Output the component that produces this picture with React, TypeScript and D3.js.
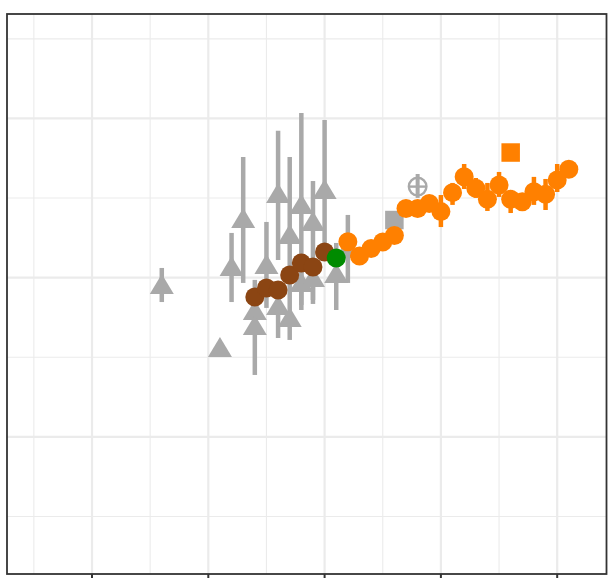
import React from "react";
import * as d3 from "d3";

// ---------- data ----------
const grayYears = [1952, 1962, 1964, 1966, 1968, 1968, 1970, 1972, 1972, 1974, 1974, 1976, 1976, 1978, 1978, 1980, 1982, 1984];
const grayVals = [-0.04, -0.435, 0.073, 0.375, -0.203, -0.297, 0.086, 0.532, -0.171, 0.274, -0.247, 0.463, -0.027, 0.356, 0.004, 0.557, 0.03, 0.187];
const grayLo = [-0.153, -0.435, -0.153, -0.033, -0.316, -0.611, -0.19, 0.111, -0.379, -0.14, -0.391, -0.203, -0.171, -0.165, -0.14, 0.124, -0.203, -0.033];
const grayHi = [0.061, -0.435, 0.281, 0.758, -0.09, -0.014, 0.35, 0.922, -0.046, 0.758, -0.14, 1.035, 0.099, 0.607, 0.099, 0.991, 0.218, 0.394];

const brownYears = [1968, 1970, 1972, 1974, 1976, 1978, 1980];
const brownVals = [-0.121, -0.065, -0.077, 0.017, 0.092, 0.067, 0.161];

const greenYears = [1982];
const greenVals = [0.124];

const orangeYears = [1984, 1986, 1988, 1990, 1992, 1994, 1996, 1998, 2000, 2002, 2004, 2006, 2008, 2010, 2012, 2014, 2016, 2018, 2020, 2022];
const orangeVals = [0.226, 0.136, 0.183, 0.224, 0.265, 0.435, 0.435, 0.466, 0.415, 0.534, 0.634, 0.562, 0.492, 0.582, 0.492, 0.477, 0.54, 0.524, 0.614, 0.681];
const orangeLo = [0.2, 0.11, 0.16, 0.2, 0.24, 0.41, 0.41, 0.42, 0.318, 0.457, 0.557, 0.501, 0.419, 0.507, 0.406, 0.438, 0.457, 0.425, 0.538, 0.639];
const orangeHi = [0.25, 0.16, 0.21, 0.25, 0.29, 0.46, 0.46, 0.51, 0.519, 0.595, 0.714, 0.626, 0.595, 0.664, 0.551, 0.519, 0.633, 0.62, 0.714, 0.72];

const graySquareYears = [1992];
const graySquareVals = [0.362];
const orangeSquareYears = [2012];
const orangeSquareVals = [0.786];
const crossYears = [1996];
const crossVals = [0.572];
const crossLo = [0.501];
const crossHi = [0.651];

const xMajor = [1940, 1960, 1980, 2000, 2020];
const xMinor = [1930, 1950, 1970, 1990, 2010];
const yMajor = [-1, 0, 1];
const yMinor = [-1.5, -0.5, 0.5, 1.5];

// ---------- layout ----------
const W = 608;
const H = 578;
const L = 7, T = 14, R = 606.5, B = 574;

const GRAY = "#A9A9A9";
const ORANGE = "#FF8000";
const BROWN = "#8B4513";
const GREEN = "#008B00";

export default function App() {
  const x = d3.scaleLinear().domain([1925.38, 2028.48]).range([L, R]);
  const y = d3.scaleLinear().domain([-1.861, 1.656]).range([B, T]);

  const r = 9.5;
  const tw = 24, th = 20;
  const tri = (cx: number, cy: number) =>
    `M${cx},${cy - th / 2}L${cx + tw / 2},${cy + th / 2}L${cx - tw / 2},${cy + th / 2}Z`;
  const sq = 18.5;

  return (
    <div style={{ position: "absolute", left: 0, top: 0 }}>
      <svg width={W} height={H} style={{ display: "block" }}>
        <rect x={0} y={0} width={W} height={H} fill="#fff" />
        {/* grid */}
        <g>
          {yMinor.map((v) => (
            <line key={"ym" + v} x1={L} x2={R} y1={y(v)} y2={y(v)} stroke="#EBEBEB" strokeWidth={1.1} />
          ))}
          {xMinor.map((v) => (
            <line key={"xm" + v} x1={x(v)} x2={x(v)} y1={T} y2={B} stroke="#EBEBEB" strokeWidth={1.1} />
          ))}
          {yMajor.map((v) => (
            <line key={"yM" + v} x1={L} x2={R} y1={y(v)} y2={y(v)} stroke="#EBEBEB" strokeWidth={2.2} />
          ))}
          {xMajor.map((v) => (
            <line key={"xM" + v} x1={x(v)} x2={x(v)} y1={T} y2={B} stroke="#EBEBEB" strokeWidth={2.2} />
          ))}
        </g>

        {/* gray error bars */}
        {grayYears.map((yr, i) => (
          <line key={"gb" + i} x1={x(yr)} x2={x(yr)} y1={y(grayLo[i])} y2={y(grayHi[i])} stroke={GRAY} strokeWidth={4.5} />
        ))}
        {/* gray triangles */}
        {grayYears.map((yr, i) => (
          <path key={"gt" + i} d={tri(x(yr), y(grayVals[i]))} fill={GRAY} />
        ))}

        {/* brown circles */}
        {brownYears.map((yr, i) => (
          <circle key={"br" + i} cx={x(yr)} cy={y(brownVals[i])} r={r} fill={BROWN} />
        ))}
        {/* green */}
        {greenYears.map((yr, i) => (
          <circle key={"gr" + i} cx={x(yr)} cy={y(greenVals[i])} r={r} fill={GREEN} />
        ))}

        {/* gray square */}
        {graySquareYears.map((yr, i) => (
          <rect key={"gs" + i} x={x(yr) - sq / 2} y={y(graySquareVals[i]) - sq / 2} width={sq} height={sq} fill={GRAY} />
        ))}

        {/* crosshair circle */}
        {crossYears.map((yr, i) => {
          const cx = x(yr), cy = y(crossVals[i]);
          return (
            <g key={"cx" + i} stroke={GRAY} fill="none">
              <line x1={cx} x2={cx} y1={y(crossLo[i])} y2={y(crossHi[i])} strokeWidth={4} />
              <circle cx={cx} cy={cy} r={8.8} strokeWidth={2.4} />
              <line x1={cx - 8.8} x2={cx + 8.8} y1={cy} y2={cy} strokeWidth={2.4} />
              <line x1={cx} x2={cx} y1={cy - 8.8} y2={cy + 8.8} strokeWidth={2.4} />
            </g>
          );
        })}

        {/* orange error bars */}
        {orangeYears.map((yr, i) => (
          <line key={"ob" + i} x1={x(yr)} x2={x(yr)} y1={y(orangeLo[i])} y2={y(orangeHi[i])} stroke={ORANGE} strokeWidth={4.5} />
        ))}
        {/* orange circles */}
        {orangeYears.map((yr, i) => (
          <circle key={"oc" + i} cx={x(yr)} cy={y(orangeVals[i])} r={r} fill={ORANGE} />
        ))}
        {/* orange square */}
        {orangeSquareYears.map((yr, i) => (
          <rect key={"os" + i} x={x(yr) - sq / 2} y={y(orangeSquareVals[i]) - sq / 2} width={sq} height={sq} fill={ORANGE} />
        ))}

        {/* panel border */}
        <rect x={L} y={T} width={R - L} height={B - T} fill="none" stroke="#333333" strokeWidth={1.8} />
        {/* ticks */}
        {xMajor.map((v) => (
          <line key={"tk" + v} x1={x(v)} x2={x(v)} y1={B} y2={H} stroke="#333333" strokeWidth={2} />
        ))}
      </svg>
    </div>
  );
}
